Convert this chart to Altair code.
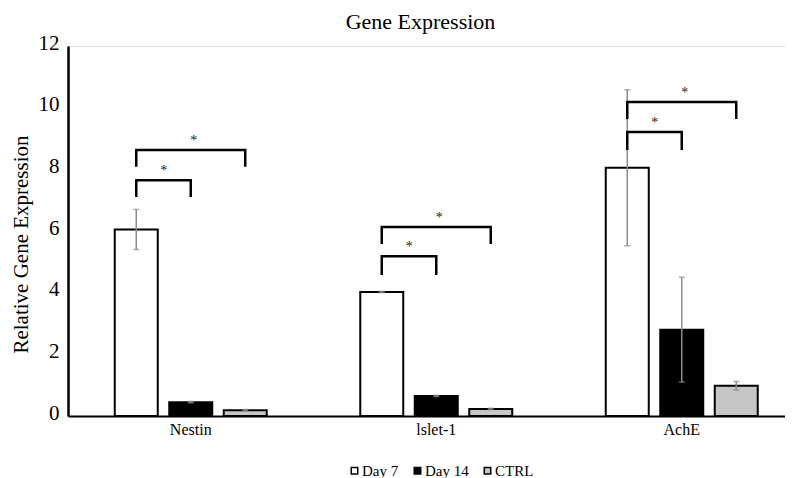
import altair as alt
import pandas as pd

# ---- data ----
genes = ["Nestin", "lslet-1", "AchE"]
series = ["Day 7", "Day 14", "CTRL"]
day7 = [6.05, 4.02, 8.05]
day14 = [0.45, 0.65, 2.80]
ctrl = [0.19, 0.23, 0.98]
err_day7 = [0.65, 0.02, 2.53]
err_day14 = [0.02, 0.02, 1.70]
err_ctrl = [0.02, 0.02, 0.14]
fills = ["#ffffff", "#000000", "#c6c6c6"]

# significance brackets (Day 7 vs Day 14 / Day 7 vs CTRL)
br_gene = ["Nestin", "Nestin", "lslet-1", "lslet-1", "AchE", "AchE"]
br_from = ["Day 7", "Day 7", "Day 7", "Day 7", "Day 7", "Day 7"]
br_to = ["Day 14", "CTRL", "Day 14", "CTRL", "Day 14", "CTRL"]
br_kind = ["short", "long", "short", "long", "short", "long"]
br_top = [7.65, 8.63, 5.18, 6.13, 9.21, 10.18]
br_leg = [7.10, 8.08, 4.57, 5.58, 8.63, 9.63]

FONT = "Liberation Serif"

# ---- tables ----
rows = []
for vals, errs, s in [(day7, err_day7, "Day 7"), (day14, err_day14, "Day 14"), (ctrl, err_ctrl, "CTRL")]:
    for g, v, e in zip(genes, vals, errs):
        rows.append({"gene": g, "series": s, "value": v, "lo": v - e, "hi": v + e})
bars_df = pd.DataFrame(rows)

line_rows = []
ast_rows = []
for i, (g, f, t, k, top, leg) in enumerate(zip(br_gene, br_from, br_to, br_kind, br_top, br_leg)):
    for j, (s, v) in enumerate([(f, leg), (f, top), (t, top), (t, leg)]):
        line_rows.append({"bid": i, "seq": j, "gene": g, "series": s, "value": v})
    ast_rows.append({"gene": g, "series": "Day 14", "value": top, "kind": k, "label": "*"})
lines_df = pd.DataFrame(line_rows)
ast_df = pd.DataFrame(ast_rows)

ytitle = "Relative Gene Expression"

x_enc = alt.X(
    "gene:N",
    scale=alt.Scale(domain=genes, range=[0, 736.5], paddingInner=0, paddingOuter=0),
    axis=alt.Axis(title=None, labelAngle=0, ticks=False, domainColor="black", domainWidth=2,
                  labelFontSize=16, labelPadding=5, labelColor="black", labelFont=FONT),
)
xo_enc = alt.XOffset("series:N", scale=alt.Scale(domain=series, paddingInner=0.211, paddingOuter=0.858))


def y_enc(field):
    return alt.Y(
        field,
        title=ytitle,
        scale=alt.Scale(domain=[0, 12], nice=False),
        axis=alt.Axis(values=[0, 2, 4, 6, 8, 10, 12], grid=False, ticks=False, domainColor="black",
                      domainWidth=2.5, labelFontSize=21, labelPadding=9, labelColor="black",
                      labelFont=FONT, labelOffset=-3, titleFont=FONT, titleFontSize=21,
                      titleFontWeight="normal", titleColor="black", titleX=-41, titleY=198,
                      titleBaseline="alphabetic", titleAlign="center", titleAngle=270),
    )


bars = alt.Chart(bars_df).mark_bar(stroke="black", strokeWidth=2).encode(
    x=x_enc,
    xOffset=xo_enc,
    y=y_enc("value:Q"),
    fill=alt.Fill("series:N", scale=alt.Scale(domain=series, range=fills),
                  legend=alt.Legend(title=None, orient="none", legendX=279, legendY=417,
                                    direction="horizontal", symbolType="square", symbolSize=42,
                                    symbolStrokeColor="black", symbolStrokeWidth=1.5,
                                    labelFont=FONT, labelFontSize=15, labelColor="black",
                                    labelOffset=0, columnPadding=11, padding=0)),
)

err_rule = alt.Chart(bars_df).mark_rule(color="#8c8c8c", strokeWidth=1.5).encode(
    x=x_enc, xOffset=xo_enc, y=y_enc("lo:Q"), y2="hi:Q"
)
cap_hi = alt.Chart(bars_df).mark_tick(color="#8c8c8c", thickness=1.5, size=6).encode(
    x=x_enc, xOffset=xo_enc, y=y_enc("hi:Q")
)
cap_lo = alt.Chart(bars_df).mark_tick(color="#8c8c8c", thickness=1.5, size=6).encode(
    x=x_enc, xOffset=xo_enc, y=y_enc("lo:Q")
)

brackets = alt.Chart(lines_df).mark_line(color="black", strokeWidth=2.5, strokeJoin="miter").encode(
    x=x_enc, xOffset=xo_enc, y=y_enc("value:Q"), detail="bid:N", order="seq:Q"
)

ast_short = alt.Chart(ast_df).transform_filter(alt.datum.kind == "short").mark_text(
    font=FONT, fontSize=14, color="#222222", baseline="alphabetic", dx=-27, dy=-5
).encode(x=x_enc, xOffset=xo_enc, y=y_enc("value:Q"), text="label:N")
ast_long = alt.Chart(ast_df).transform_filter(alt.datum.kind == "long").mark_text(
    font=FONT, fontSize=14, color="#222222", baseline="alphabetic", dx=3, dy=-5
).encode(x=x_enc, xOffset=xo_enc, y=y_enc("value:Q"), text="label:N")

chart = alt.layer(bars, err_rule, cap_hi, cap_lo, brackets, ast_short, ast_long).properties(
    width=717,
    height=370,
    title=alt.TitleParams("Gene Expression", font=FONT, fontSize=22, fontWeight="normal",
                          color="black", baseline="alphabetic", offset=3, dy=22, dx=-6,
                          anchor="middle", frame="group"),
    autosize=alt.AutoSizeParams(type="none"),
    padding={"left": 60, "top": 38, "right": 0, "bottom": 62},
).configure_view(stroke=None).configure(background="white")

chart.save("out.html", embed_options={"renderer": "svg", "actions": False})
